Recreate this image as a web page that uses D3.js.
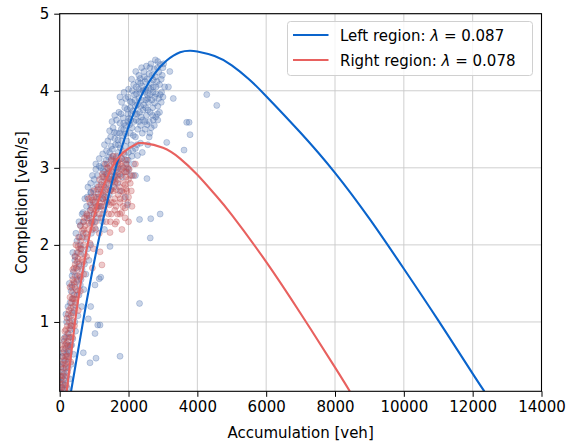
<!DOCTYPE html>
<html>
<head>
<meta charset="utf-8">
<script src="https://cdn.jsdelivr.net/npm/d3@7/dist/d3.min.js"></script>
<style>
  html, body { margin: 0; padding: 0; background: #fff; }
  svg { display: block; font-family: "DejaVu Sans", sans-serif; }
</style>
</head>
<body>
<svg id="chart" width="578" height="442"></svg>
<script>
// Axis ticks
const xTicks = [0, 2000, 4000, 6000, 8000, 10000, 12000, 14000];
const yTicks = [1, 2, 3, 4, 5];

// Fitted MFD curves: [accumulation (veh), completion (veh/s)]
const leftCurve = [
  [330, 0.1], [700, 1.06], [1070, 1.93], [1500, 2.78], [1800, 3.26], [2100, 3.65],
  [2436, 3.99], [2770, 4.23], [3100, 4.39], [3500, 4.5], [3790, 4.52], [4000, 4.51],
  [4500, 4.45], [5000, 4.33], [5500, 4.15], [6000, 3.93], [7000, 3.455], [8000, 2.935],
  [9000, 2.34], [10000, 1.69], [11000, 1.02], [12000, 0.33], [12340, 0.1]
];
const rightCurve = [
  [203, 0.1], [445, 1.0], [600, 1.47], [782, 1.94], [1000, 2.37], [1221, 2.7],
  [1462, 2.96], [1802, 3.18], [2189, 3.3], [2436, 3.32], [3000, 3.26], [3500, 3.12],
  [4000, 2.91], [4500, 2.66], [5000, 2.39], [6000, 1.78], [7000, 1.11], [8000, 0.41],
  [8430, 0.1]
];

// Observations, left region
const leftPoints = [
  [30,0.15],[80,0.12],[150,0.18],[220,0.14],[60,0.28],[130,0.33],[210,0.3],[290,0.26],
  [40,0.42],[110,0.47],[180,0.4],[260,0.52],[340,0.45],[90,0.6],[170,0.66],[240,0.62],
  [320,0.7],[400,0.58],[150,0.8],[230,0.85],[310,0.9],[380,0.78],[460,0.88],[200,1.0],
  [280,1.05],[360,1.12],[440,1.0],[530,1.08],[300,1.25],[380,1.3],[460,1.22],[560,1.35],
  [640,1.2],[350,1.45],[430,1.5],[510,1.55],[600,1.48],[700,1.42],[400,1.65],[480,1.7],
  [560,1.75],[650,1.68],[760,1.62],[450,1.85],[540,1.9],[620,1.95],[720,1.88],[850,1.8],
  [500,2.05],[580,2.1],[680,2.15],[780,2.08],[900,2.0],
  [600,2.25],[700,2.3],[800,2.35],[920,2.28],[1050,2.2],[680,2.42],[780,2.5],[880,2.45],
  [980,2.55],[1100,2.48],[1250,2.4],[800,2.62],[900,2.68],[1000,2.72],[1120,2.66],[1250,2.6],
  [1380,2.55],[900,2.8],[1000,2.85],[1100,2.9],[1220,2.82],[1350,2.78],[1480,2.72],[1050,2.98],
  [1150,3.02],[1260,2.96],[1380,3.05],[1500,2.95],[1620,2.88],[1750,2.92],
  [1150,3.12],[1250,3.18],[1350,3.1],[1450,3.2],[1560,3.15],[1680,3.08],[1800,3.12],[1950,3.05],
  [2100,3.15],[1300,3.3],[1400,3.35],[1500,3.28],[1600,3.38],[1700,3.3],[1820,3.42],[1950,3.35],
  [2080,3.3],[2200,3.4],[2350,3.32],[1450,3.48],[1550,3.52],[1650,3.45],[1750,3.58],[1860,3.5],
  [1980,3.6],[2100,3.52],[2220,3.62],[2350,3.55],[2480,3.5],[2620,3.45],[1600,3.68],[1720,3.72],
  [1840,3.65],[1960,3.76],[2080,3.7],[2200,3.8],[2320,3.72],[2440,3.82],[2560,3.75],[2700,3.68],
  [2850,3.62],[1800,3.85],[1920,3.9],[2050,3.86],[2170,3.95],[2300,3.9],[2420,4.0],[2550,3.94],
  [2680,3.88],[2800,3.96],[2950,3.85],[2000,4.02],[2150,4.08],[2280,4.12],[2400,4.06],[2530,4.15],
  [2650,4.1],[2780,4.18],[2900,4.08],[3050,4.05],[2300,4.2],[2450,4.25],[2600,4.22],[2750,4.28],
  [2880,4.24],[3000,4.3],[2650,4.35],[2850,4.38],
  [2250,3.7],[2380,3.88],[2520,3.68],[2620,3.95],[2720,4.05],[2480,3.6],[2580,3.85],[2150,3.6],
  [2050,3.45],[1900,3.28],[1700,3.2],[1580,3.05],[2300,4.02],[2500,4.02],[2700,3.78],[2850,3.8],
  [2400,3.45],[2200,3.25],[2000,3.2],[1850,3.0],[1650,2.98],[1450,2.85],[1300,2.75],[1150,2.6],
  [1000,2.4],[2600,3.6],[2750,3.55],[2900,3.72],[3000,3.92],[2950,4.15],
  [1280,3.05],[1420,3.14],[1530,3.24],[1640,3.12],[1760,3.26],[1880,3.18],[1990,3.1],[2120,3.22],
  [2260,3.16],[1360,3.22],[1480,3.4],[1590,3.46],[1690,3.36],[1790,3.5],[1910,3.44],[2030,3.56],
  [2140,3.42],[2270,3.5],[2410,3.62],[2540,3.56],[2660,3.52],[2790,3.66],[1520,3.6],[1650,3.62],
  [1780,3.7],[1890,3.78],[2010,3.64],[2130,3.74],[2260,3.82],[2370,3.66],[2500,3.78],[2630,3.72],
  [2760,3.84],[2880,3.9],[1750,3.92],[1870,3.98],[1990,3.92],[2110,4.0],[2230,3.96],[2350,4.1],
  [2470,3.98],[2590,4.04],[2710,3.98],[2830,4.12],[2960,3.98],[2090,4.15],[2210,4.25],[2340,4.16],
  [2480,4.12],[2620,4.3],[2720,4.14],[2840,4.3],[2980,4.2],[2520,4.32],[2380,4.3],[2780,4.4],
  [2920,4.34],
  [1000,2.62],[1080,2.78],[1180,2.72],[1280,2.88],[1390,2.92],[1540,2.84],[1680,2.8],[1820,2.88],
  [1950,2.95],[1200,2.5],[1320,2.62],[1440,2.65],[1580,2.75],[1100,2.35],[1240,2.3],[900,2.52],
  [850,2.38],[950,2.3],[1400,3.0],[1300,2.95],
  [10,0.22],[50,0.08],[110,0.25],[170,0.2],[250,0.4],[70,0.55],[200,0.58],[290,0.6],
  [130,0.75],[270,0.8],[350,0.7],[180,1.1],[240,1.2],[330,1.4],[420,1.35],[280,1.5],
  [360,1.6],[440,1.8],[520,1.6],[600,2.0],[380,1.9],[470,2.15],[560,2.3],[650,2.4],
  [730,2.6],[820,2.75],[950,2.9],[1050,3.05],[1200,3.0],
  [1700,3.0],[1800,3.35],[1920,3.55],[2050,3.78],[2180,3.88],[2300,3.6],[2420,3.75],[2560,3.9],
  [2680,4.2],[2800,4.05],[2920,3.95],[2460,4.18],[2340,3.98],[2220,4.05],[2100,3.85],[1980,3.7],
  [1860,3.58],[1740,3.45],[1620,3.3],[1500,3.12],[1380,2.88],[1260,2.68],[1140,2.5],[1020,2.3],
  [920,2.15],[820,1.95],[720,1.75],[620,1.55],[520,1.4],[420,1.15],[330,0.95],[240,0.7],
  [160,0.5],[80,0.35],[2600,3.4],[2720,3.62],[2840,3.7],[2560,3.3],[2400,3.2],[2250,3.3],
  [2150,3.05],[2000,2.98],[1900,3.1],[2640,4.02],[2760,3.92],[2500,3.88],[2350,3.8],[2200,3.7],
  [2060,3.62],
  [3200,4.25],[3160,4.05],[3020,4.35],[4273,3.95],[4564,3.81],[3690,3.59],[3760,3.59],[3788,3.43],
  [3613,3.23],[3110,3.33],[2535,2.86],[2919,2.4],[2645,2.34],[2320,2.33],[2631,2.09],[2320,1.24],
  [1753,0.555],[1965,2.52],[1898,2.62],[1462,1.98],[1192,1.58],[1172,0.96],[910,2.68],[1148,1.56],
  [1026,1.48],[831,1.04],[1105,0.96],[1026,0.85],[686,0.6],[880,0.47],[1055,0.53],[1600,2.9],
  [1750,2.7],[2100,2.9],[1300,2.2],[900,1.2],[3300,3.9],[2200,2.9]
];

// Observations, right region
const rightPoints = [
  [20,0.12],[70,0.15],[130,0.12],[190,0.18],[40,0.25],[100,0.3],[160,0.28],[230,0.35],
  [60,0.45],[120,0.5],[180,0.42],[250,0.55],[320,0.48],[100,0.65],[160,0.7],[230,0.75],
  [300,0.68],[370,0.8],[150,0.88],[220,0.95],[290,0.92],[360,1.02],[430,0.95],[250,1.1],
  [320,1.18],[390,1.12],[460,1.25],[540,1.15],[300,1.32],[370,1.38],[440,1.45],[510,1.35],
  [600,1.4],[380,1.55],[450,1.6],[520,1.68],[600,1.58],[700,1.62],[450,1.75],[530,1.82],
  [610,1.88],[690,1.78],[780,1.85],[530,1.98],[610,2.05],[700,2.0],[790,2.1],[880,2.02],
  [980,1.95],[650,2.18],[740,2.25],[830,2.2],[920,2.3],[1020,2.22],[1150,2.15],
  [800,2.38],[900,2.45],[1000,2.4],[1100,2.5],[1200,2.35],[1350,2.3],[1500,2.4],[1650,2.3],
  [1800,2.42],[950,2.58],[1050,2.62],[1150,2.55],[1250,2.65],[1350,2.58],[1450,2.52],[1600,2.6],
  [1750,2.55],[1900,2.48],[1100,2.72],[1200,2.78],[1300,2.7],[1400,2.8],[1500,2.72],[1620,2.82],
  [1740,2.75],[1860,2.68],[2000,2.62],[1250,2.88],[1350,2.92],[1450,2.86],[1560,2.95],[1680,2.9],
  [1800,2.98],[1920,2.88],[2050,2.8],[1450,3.02],[1560,3.08],[1680,3.05],[1800,3.12],[1920,3.05],
  [2020,2.98],[1650,3.15],[1850,3.2],[1400,2.62],[1550,2.7],[1700,2.65],[1850,2.8],[1600,2.45],
  [1750,2.4],[1950,2.7],[1300,2.5],
  [10,0.2],[50,0.35],[90,0.2],[150,0.45],[210,0.55],[270,0.62],[80,0.55],[130,0.62],
  [190,0.8],[260,0.85],[330,0.95],[200,0.72],[280,1.0],[340,1.25],[410,1.3],[480,1.42],
  [350,1.48],[420,1.7],[490,1.52],[560,1.72],[640,1.8],[500,1.9],[580,1.95],[660,2.1],
  [760,2.15],[850,2.28],[720,2.35],[880,2.55],[980,2.7],[1060,2.5],[1160,2.85],[1280,2.78],
  [1380,3.0],[1500,3.1],[1620,3.0],[1720,3.1],[1820,3.02],[1950,3.1],[1700,2.85],[1800,2.7],
  [1880,2.6],[1980,2.55],[1500,2.55],[1640,2.5],[1420,2.4],[1300,2.45],[1150,2.4],[1050,2.3],
  [950,2.2],[1250,2.6],[1380,2.72],[1520,2.82],[1640,2.72],[1780,2.9],[1920,2.95],[2050,2.9],
  [1580,2.88],[1350,2.85],[1200,2.68],[1100,2.62],[1900,2.78],
  [30,0.3],[110,0.4],[170,0.55],[240,0.48],[60,0.7],[120,0.78],[180,0.9],[250,0.68],
  [310,0.8],[210,1.05],[270,1.15],[330,1.08],[400,1.2],[300,1.45],[360,1.3],[420,1.52],
  [470,1.3],[380,1.68],[440,1.85],[510,1.78],[570,1.6],[470,2.0],[550,2.1],[630,1.95],
  [700,2.2],[600,2.25],[680,2.3],[780,2.4],[860,2.35],[940,2.48],[830,2.6],[920,2.62],
  [1020,2.55],[1120,2.75],[1240,2.92],[1330,3.05],[1440,2.95],[1540,3.15],[1600,2.8],[1700,2.95],
  [1760,2.6],[1840,2.5],[1880,2.95],[2000,2.85],[1980,3.0],[1460,2.7],[1330,2.55],[1180,2.5],
  [1050,2.45],[1560,2.55],[1680,2.4],[1470,2.3],[1760,3.05],[1640,3.08],[2080,2.7],[1900,2.35],
  [1927,2.73],[1608,2.27],[1462,2.16],[1172,1.91],[1808,2.2],[2000,2.3],[2100,2.5],[1227,1.74],
  [950,1.7],[2150,2.9],[2200,3.05]
];

const legendItems = [
  { label: "Left region: ", lambda: "0.087", color: "#0a64cc" },
  { label: "Right region: ", lambda: "0.078", color: "#e8615f" }
];

const svg = d3.select("#chart");
const plot = { left: 59.7, right: 541.5, top: 13.7, bottom: 391.3 };

const x = d3.scaleLinear().domain([0, 14000]).range([plot.left, plot.right]);
const y = d3.scaleLinear().domain([0.1, 5]).range([plot.bottom, plot.top]);

svg.append("defs").append("clipPath").attr("id", "plotClip")
  .append("rect")
  .attr("x", plot.left).attr("y", plot.top)
  .attr("width", plot.right - plot.left).attr("height", plot.bottom - plot.top);

// Grid
const grid = svg.append("g");
grid.selectAll(".gx").data(xTicks).enter().append("line")
  .attr("x1", d => x(d)).attr("x2", d => x(d))
  .attr("y1", plot.top).attr("y2", plot.bottom)
  .attr("stroke", "#c9c9c9").attr("stroke-width", 0.9);
grid.selectAll(".gy").data(yTicks).enter().append("line")
  .attr("x1", plot.left).attr("x2", plot.right)
  .attr("y1", d => y(d)).attr("y2", d => y(d))
  .attr("stroke", "#c9c9c9").attr("stroke-width", 0.9);

const body = svg.append("g").attr("clip-path", "url(#plotClip)");

function scatter(data, color) {
  body.append("g").selectAll("circle").data(data).enter().append("circle")
    .attr("cx", d => x(d[0])).attr("cy", d => y(d[1])).attr("r", 3)
    .attr("fill", color).attr("fill-opacity", 0.3)
    .attr("stroke", color).attr("stroke-opacity", 0.3).attr("stroke-width", 1);
}
scatter(leftPoints, "#4c72b0");
scatter(rightPoints, "#c44e52");

const line = d3.line().x(d => x(d[0])).y(d => y(d[1])).curve(d3.curveNatural);
body.append("path").datum(leftCurve).attr("d", line)
  .attr("fill", "none").attr("stroke", legendItems[0].color).attr("stroke-width", 2.1);
body.append("path").datum(rightCurve).attr("d", line)
  .attr("fill", "none").attr("stroke", legendItems[1].color).attr("stroke-width", 2.1);

// Axes
const xAxis = svg.append("g").attr("transform", `translate(0,${plot.bottom})`)
  .call(d3.axisBottom(x).tickValues(xTicks).tickFormat(d3.format("d")).tickSize(5.5).tickPadding(4.5));
const yAxis = svg.append("g").attr("transform", `translate(${plot.left},0)`)
  .call(d3.axisLeft(y).tickValues(yTicks).tickFormat(d3.format("d")).tickSize(5.5).tickPadding(5));
[xAxis, yAxis].forEach(a => {
  a.select(".domain").remove();
  a.selectAll("line").attr("stroke", "#000").attr("stroke-width", 1);
  a.selectAll("text").attr("fill", "#000").style("font-size", "15px")
    .style("font-family", "'DejaVu Sans', sans-serif");
});

// Frame
svg.append("rect")
  .attr("x", plot.left).attr("y", plot.top)
  .attr("width", plot.right - plot.left).attr("height", plot.bottom - plot.top)
  .attr("fill", "none").attr("stroke", "#000").attr("stroke-width", 1.1);

// Axis titles
svg.append("text").attr("x", (plot.left + plot.right) / 2).attr("y", 437.5)
  .attr("text-anchor", "middle").style("font-size", "15px").text("Accumulation [veh]");
svg.append("text").attr("transform", `translate(27,${(plot.top + plot.bottom) / 2}) rotate(-90)`)
  .attr("text-anchor", "middle").style("font-size", "15px").text("Completion [veh/s]");

// Legend
const lg = svg.append("g");
lg.append("rect").attr("x", 287.5).attr("y", 21.5).attr("width", 245).attr("height", 54)
  .attr("rx", 3).attr("fill", "#fff").attr("fill-opacity", 0.8)
  .attr("stroke", "#d0d0d0").attr("stroke-width", 1);
legendItems.forEach((it, i) => {
  const cy = 35 + i * 25;
  lg.append("line").attr("x1", 293).attr("x2", 328.5).attr("y1", cy).attr("y2", cy)
    .attr("stroke", it.color).attr("stroke-width", 2.1);
  const t = lg.append("text").attr("x", 340).attr("y", cy + 5.5).style("font-size", "15px");
  t.append("tspan").text(it.label);
  t.append("tspan").style("font-style", "italic").text("λ");
  t.append("tspan").text(" = " + it.lambda);
});
</script>
</body>
</html>
